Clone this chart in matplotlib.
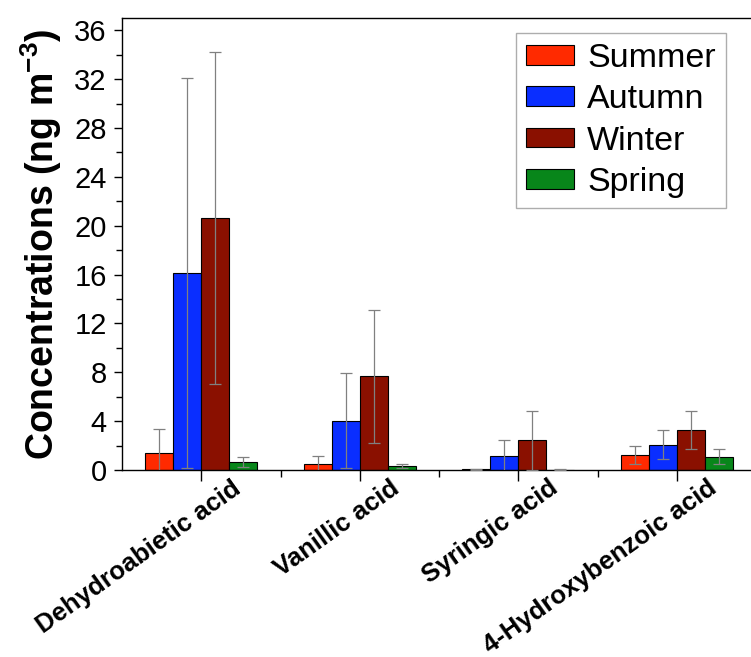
import numpy as np
import matplotlib.pyplot as plt
import matplotlib.transforms as mtransforms
from matplotlib.ticker import MultipleLocator

# compounds and seasonal means / standard deviations (ng m-3)
compounds = ["Dehydroabietic acid", "Vanillic acid", "Syringic acid", "4-Hydroxybenzoic acid"]
seasons = ["Summer", "Autumn", "Winter", "Spring"]

summer = [1.36, 0.49, 0.08, 1.25]
autumn = [16.1, 4.03, 1.14, 2.07]
winter = [20.6, 7.67, 2.42, 3.27]
spring = [0.63, 0.33, 0.04, 1.09]

summer_sd = [1.96, 0.65, 0.04, 0.73]
autumn_sd = [15.95, 3.9, 1.28, 1.2]
winter_sd = [13.6, 5.45, 2.42, 1.55]
spring_sd = [0.4, 0.13, 0.02, 0.6]

colors = ["#FF2A00", "#0A2EFF", "#8A1000", "#08861A"]

plt.rcParams["font.family"] = ["Liberation Sans", "DejaVu Sans"]
plt.rcParams["mathtext.fontset"] = "custom"
plt.rcParams["mathtext.bf"] = "Liberation Sans:bold"
plt.rcParams["mathtext.rm"] = "Liberation Sans"

fig = plt.figure(figsize=(7.51, 6.57), dpi=100)
ax = fig.add_axes([122 / 751, (657 - 470) / 657, (756 - 122) / 751, (470 - 18) / 657])

x = np.arange(len(compounds))
w = 0.177
means = [summer, autumn, winter, spring]
sds = [summer_sd, autumn_sd, winter_sd, spring_sd]
for i, (m, s) in enumerate(zip(means, sds)):
    pos = x + (i - 1.5) * w
    ax.bar(pos, m, width=w, color=colors[i], edgecolor="black", linewidth=0.8,
           label=seasons[i], zorder=2)
    ax.errorbar(pos, m, yerr=s, fmt="none", ecolor="#808080", elinewidth=0.9,
                capsize=4, capthick=0.9, zorder=3)

ax.set_xlim(-0.5, 3.5)
ax.set_ylim(0, 37)
ax.yaxis.set_major_locator(MultipleLocator(4))
ax.yaxis.set_minor_locator(MultipleLocator(2))
ax.set_xticks(x)
ax.set_xticks(x + 0.5, minor=True)
ax.tick_params(axis="both", which="major", direction="out", length=6, width=1)
ax.tick_params(axis="both", which="minor", direction="out", length=4, width=1)
ax.tick_params(axis="x", which="major", length=8)
ax.tick_params(axis="x", which="minor", length=5)
ax.tick_params(axis="y", labelsize=21, pad=5)

offset = mtransforms.ScaledTranslation(30 / 100, 10 / 100, fig.dpi_scale_trans)
ax.set_xticklabels(compounds, rotation=35.5, ha="right", va="top",
                   rotation_mode="anchor", fontsize=18.5, fontweight="bold")
for lab in ax.get_xticklabels():
    lab.set_transform(lab.get_transform() + offset)

ax.set_ylabel("Concentrations (ng m$^{\\mathbf{-3}}$)", fontsize=27, fontweight="bold", labelpad=7)

for sp in ax.spines.values():
    sp.set_linewidth(1)

leg = ax.legend(loc="upper right", bbox_to_anchor=((726 - 122) / (756 - 122), (470 - 33) / 452),
                fontsize=24.5, frameon=True, fancybox=False, edgecolor="#999999",
                handlelength=1.4, handleheight=0.52, handletextpad=0.4,
                labelspacing=0.3, borderpad=0.3, borderaxespad=0)
leg.get_frame().set_linewidth(1)

fig.savefig("out.png", dpi=100)
